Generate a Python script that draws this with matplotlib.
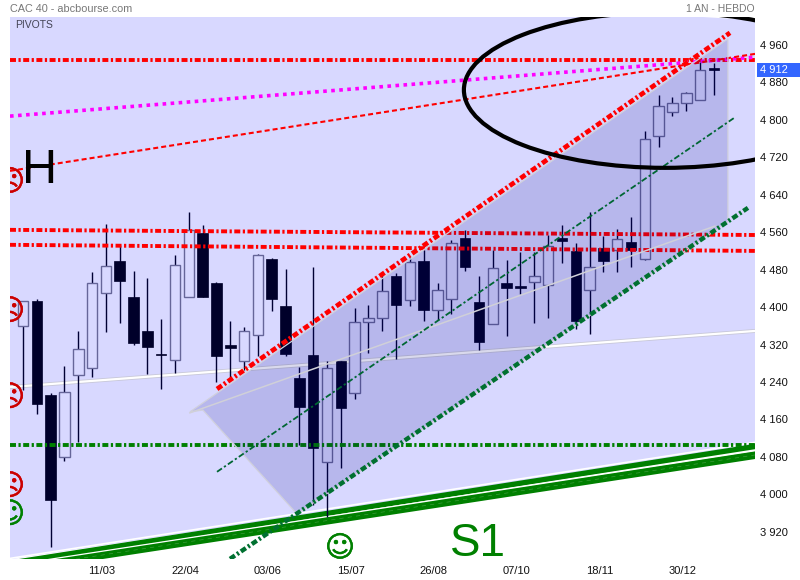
import matplotlib
matplotlib.use("Agg")
import matplotlib.pyplot as plt
import matplotlib.patheffects as pe
from matplotlib.patches import Polygon, Ellipse, Rectangle

plt.rcParams['font.family'] = ['Liberation Sans', 'DejaVu Sans']
plt.rcParams['lines.scale_dashes'] = False

# candles: body top, body bottom, high, low, dark(1)/hollow(0)
body_top = [4413,4413,4212,4219,4310,4451,4488,4498,4422,4349,4299,4490,4565,4558,4451,4319,4349,4511,4503,4402,
            4248,4298,4270,4285,4368,4377,4434,4466,4496,4498,4436,4537,4548,4411,4483,4451,4445,4466,4531,4548,
            4520,4486,4526,4545,4539,4759,4830,4836,4857,4907,4911]
body_bot = [4360,4193,3988,4080,4255,4270,4430,4456,4323,4315,4297,4287,4422,4422,4295,4313,4285,4340,4417,4300,
            4186,4099,4069,4184,4216,4368,4377,4404,4415,4394,4394,4417,4486,4325,4364,4441,4441,4454,4447,4541,
            4370,4436,4498,4522,4522,4503,4766,4817,4836,4842,4907]
highs = [4413,4417,4216,4274,4349,4475,4578,4533,4477,4462,4375,4511,4603,4575,4454,4370,4357,4513,4505,4481,
         4272,4486,4285,4285,4398,4404,4471,4473,4507,4522,4451,4543,4565,4466,4522,4501,4518,4518,4554,4575,
         4537,4603,4552,4567,4592,4776,4853,4849,4860,4924,4922]
lows = [4223,4171,3887,4071,4112,4251,4347,4366,4319,4257,4225,4259,4422,4422,4240,4248,4266,4295,4392,4295,
        4105,3977,3951,4056,4204,4302,4349,4289,4402,4370,4372,4385,4477,4308,4364,4338,4428,4366,4377,4494,
        4353,4342,4475,4475,4486,4501,4742,4808,4819,4842,4853]
is_dark = [0,1,1,0,0,0,0,1,1,1,1,0,0,1,1,1,0,0,1,1,
           1,1,0,1,0,0,0,1,0,1,0,0,1,1,0,1,1,0,0,1,
           1,0,1,0,1,0,0,0,0,0,1]

y_ticks = [3920,4000,4080,4160,4240,4320,4400,4480,4560,4640,4720,4800,4880,4960]
y_labels = ["3 920","4 000","4 080","4 160","4 240","4 320","4 400","4 480","4 560","4 640","4 720","4 800","4 880","4 960"]
x_tick_pos = [5.72,11.72,17.72,23.72,29.72,35.72,41.72,47.72]
x_labels = ["11/03","22/04","03/06","15/07","26/08","07/10","18/11","30/12"]
last_label_y = 4907
X0, X1, Y0, Y1 = -0.94, 52.97, 3861.7, 5019.8

# drawn studies, end points in (candle index, price)
pivot_top = 4928
pivot_s1 = 4105
magenta_y = [4808, 4934]
red_dash_y = [4691, 4941]
red_h1_y = [4565, 4554]
red_h2_y = [4533, 4520]
chan_top_x, chan_top_y = [14.04, 51.16], [4225, 4986]
chan_mid_x, chan_mid_y = [14.04, 51.45], [4048, 4804]
chan_low_x, chan_low_y = [14.98, 52.46], [3862, 4612]
white_y = [4229, 4349]
grey_x, grey_y = [12.08, 50.07], [4174, 4573]
strip_up_y = [3853, 4102]
strip_low_y = [3840, 4084]
strip_in_y = [3848, 4093]
white_top_y = [3863, 4111]
channel_poly = [(12.08,4176),(51.01,4973),(51.01,4582),(19.83,3958),(13.02,4180)]
back_poly = [(X0,Y1),(49.2,Y1),(X1,5013),(X1,4100),(X0,3861)]
ring = (46.45, 4864, 29.09, 333)
sad_faces = [(X0,4666),(X0,4390),(X0,4206),(X0,4016)]
happy_faces = [(X0,3956),(22.94,3884)]

fig = plt.figure(figsize=(8,5.8), dpi=100, facecolor='white')
ax = fig.add_axes([10/800, 1-559/580, 745/800, 542/580])
ax.set_xlim(X0, X1); ax.set_ylim(Y0, Y1)
ax.patch.set_visible(False)
for s in ax.spines.values():
    s.set_visible(False)

ax.add_patch(Polygon(back_poly, closed=True, fc='#D8D8FF', ec='none', zorder=0))

DD = (0,(4.3,1.8,1.6,1.8))
xe = [X0, X1]
ax.plot(xe, white_y, color='#C8C8D8', lw=2.8, zorder=1)
ax.plot(xe, white_y, color='white', lw=1.6, zorder=1.1)
ax.plot(xe, strip_up_y, color='#008000', lw=3.8, zorder=1.3)
ax.plot(xe, strip_low_y, color='#008000', lw=5.8, zorder=1.3)
ax.plot(xe, strip_low_y, color='#3A9A3A', lw=0.5, ls=(0,(3,3)), zorder=1.35)
ax.plot(xe, strip_in_y, color='white', lw=0.9, zorder=1.4)
ax.plot(xe, white_top_y, color='white', lw=1.2, zorder=1.4)

W = 0.38
for i,(t,b,h,l,d) in enumerate(zip(body_top, body_bot, highs, lows, is_dark)):
    ax.plot([i,i],[l,h], color='#000033', lw=1.0, zorder=3, solid_capstyle='butt')
    if d:
        ax.add_patch(Rectangle((i-W,b),2*W,t-b, fc='#00002A', ec='#00002A', lw=0.5, zorder=3.2))
    else:
        ax.add_patch(Rectangle((i-W,b),2*W,t-b, fc='#D8D8FF', ec='#666699', lw=1.0, zorder=3.2))

ax.plot(xe, [pivot_top]*2, color='#FF0000', lw=2.8, ls=DD, zorder=3.5)
ax.plot(xe, red_h1_y, color='#FF0000', lw=2.8, ls=DD, zorder=3.5)
ax.plot(xe, red_h2_y, color='#FF0000', lw=2.8, ls=DD, zorder=3.5)
ax.plot(xe, [pivot_s1]*2, color='#008000', lw=2.8, ls=DD, zorder=3.5)
ax.plot(xe, magenta_y, color='#FF00FF', lw=2.6, ls=(0,(2.6,3.2)), zorder=3.5)
ax.plot(xe, red_dash_y, color='#FF0000', lw=1.5, ls=(0,(3.6,2.2)), zorder=3.5)

ax.add_patch(Polygon(channel_poly, closed=True, fc='#000080', alpha=0.15, ec='none', zorder=4))
ax.add_patch(Polygon(channel_poly, closed=True, fc='none', ec='#D0D0DC', lw=0.9, zorder=4.1))
ax.plot(grey_x, grey_y, color='#D0D0D8', lw=1.1, zorder=4.2)
ax.plot(chan_top_x, chan_top_y, color='#FF0000', lw=3.4, ls=DD, zorder=5)
ax.plot(chan_mid_x, chan_mid_y, color='#006633', lw=1.3, ls=DD, zorder=5)
ax.plot(chan_low_x, chan_low_y, color='#007030', lw=3.2, ls=DD, zorder=5)
ax.add_patch(Ellipse(ring[:2], ring[2], ring[3], fc='none', ec='black', lw=3.0, zorder=6))

stroke_r = [pe.withStroke(linewidth=0.35, foreground='#CC0000')]
stroke_g = [pe.withStroke(linewidth=0.35, foreground='#008000')]
for p in sad_faces:
    ax.text(*p, '\u2639', family='DejaVu Sans', fontsize=21, color='#CC0000', ha='center', va='center', clip_on=True, zorder=6, path_effects=stroke_r)
for p in happy_faces:
    ax.text(*p, '\u263A', family='DejaVu Sans', fontsize=21, color='#008000', ha='center', va='center', clip_on=True, zorder=6, path_effects=stroke_g)

ax.text(1.23, 4691, 'H', fontsize=35, color='black', ha='center', va='center', zorder=6)
ax.text(32.96, 3893, 'S1', fontsize=33, color='#008000', ha='center', va='center', zorder=6)
ax.text(15/800, 1-25/580, 'PIVOTS', transform=fig.transFigure, fontsize=7.5, color='#444455', va='center')
fig.text(10/800, 1-9/580, 'CAC 40 - abcbourse.com', fontsize=7.8, color='#777777', va='center')
fig.text(755/800, 1-9/580, '1 AN - HEBDO', fontsize=7.5, color='#777777', va='center', ha='right')

ax.set_xticks(x_tick_pos); ax.set_xticklabels(x_labels, fontsize=8, color='#111111')
ax.yaxis.tick_right()
ax.set_yticks(y_ticks); ax.set_yticklabels(y_labels, fontsize=8, color='#111111')
ax.tick_params(length=0, axis='x', pad=5)
ax.tick_params(length=0, axis='y', pad=3.5)
yt = ax.get_yaxis_transform()
ax.add_patch(Rectangle((1.0027, last_label_y-15), 0.0577, 30, transform=yt, fc='#3366FF', ec='none', clip_on=False, zorder=7))
ax.text(1.0067, last_label_y, '4 912', transform=yt, fontsize=8, color='white', va='center', ha='left', clip_on=False, zorder=8)

fig.savefig('out.png', dpi=100)
